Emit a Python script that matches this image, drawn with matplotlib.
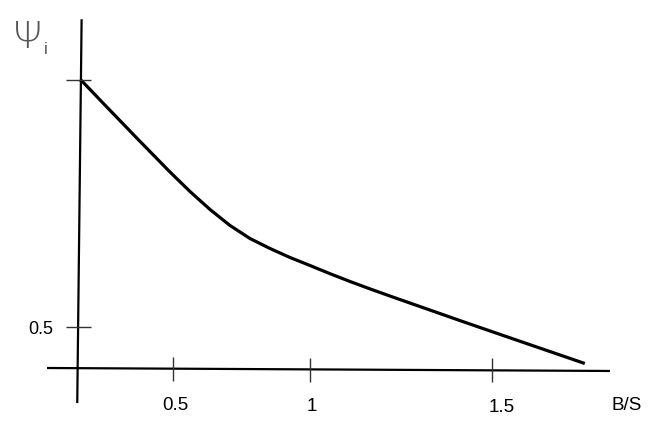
import numpy as np
import matplotlib
matplotlib.use("Agg")
import matplotlib.pyplot as plt

plt.rcParams['font.family'] = ['Liberation Sans', 'DejaVu Sans']

# hand drawn x axis: tick spacing is not even, so map data -> drawing position
x_ref = [-1.0, 0.0, 0.5, 1.0, 1.5, 3.0]
x_pos = [-112.0, 78.0, 173.0, 310.0, 492.0, 1038.0]

# curve Psi_i vs B/S
bs = [0.01, 0.019, 0.133, 0.309, 0.484, 0.562, 0.635, 0.708, 0.781,
      0.854, 0.927, 1.000, 1.055, 1.110, 1.165, 1.220, 1.275, 1.330,
      1.412, 1.495, 1.577, 1.659, 1.755]
psi = [1.0, 0.9986, 0.9528, 0.8826, 0.8138, 0.7743, 0.7379, 0.7055, 0.6791,
       0.6589, 0.6407, 0.6245, 0.6079, 0.5921, 0.5771, 0.5626, 0.5484, 0.5342,
       0.5130, 0.4919, 0.4711, 0.4504, 0.4261]

xticks = [0.5, 1.0, 1.5]
xtick_labels = ["0.5", "1", "1.5"]
yticks = [1.0, 0.5]
ytick_labels = ["", "0.5"]

# axis lines (as drawn, slightly skewed)
x_axis_x = [-0.163, 1.824]
x_axis_y = [0.417, 0.411]
y_axis_x = [-0.004, 0.019]
y_axis_y = [0.346, 1.123]


def fwd(x):
    return np.interp(x, x_ref, x_pos)


def inv(p):
    return np.interp(p, x_pos, x_ref)


fig = plt.figure(figsize=(6.71, 4.33), dpi=100)
ax = fig.add_axes([0, 0, 1, 1])
ax.set_xscale('function', functions=(fwd, inv))
ax.set_xlim(inv(0), inv(671))
# 494 px per unit on y, value 1 sits at 80 px from top
ax.set_ylim(1 - 353 / 494, 1 + 80 / 494)
ax.axis('off')

ax.plot(x_axis_x, x_axis_y, color='black', lw=1.6, solid_capstyle='butt')
ax.plot(y_axis_x, y_axis_y, color='black', lw=1.6, solid_capstyle='butt')

ax.plot(bs, psi, color='black', lw=2.3, solid_capstyle='butt', solid_joinstyle='round')

# ticks
x_axis_at = np.interp(xticks, x_axis_x, x_axis_y)
ax.plot(xticks, x_axis_at, ls='', marker='|', ms=17, mew=1.0, color='#333333')
ax.plot([0, 0], yticks, ls='', marker='_', ms=18, mew=1.0, color='#333333')

dx = [2, 2, 10]
for x, lab, d, ya in zip(xticks, xtick_labels, dx, x_axis_at):
    ax.annotate(lab, (x, ya), xytext=(d * 0.72, -37 * 0.72), textcoords='offset points',
                ha='center', va='center', fontsize=13.5)
for y, lab in zip(yticks, ytick_labels):
    if lab:
        ax.annotate(lab, (0, y), xytext=(-37.5 * 0.72, -2 * 0.72), textcoords='offset points',
                    ha='center', va='center', fontsize=13)

fig.text(627 / 671, 1 - 405 / 433, "B/S", ha='center', va='center', fontsize=13.5)
fig.text(28 / 671, 1 - 38 / 433, "Ψ", ha='center', va='center', fontsize=27,
         fontweight='light', color='#555555', family=['DejaVu Sans'])
fig.text(46 / 671, 1 - 50 / 433, "i", ha='center', va='center', fontsize=12,
         color='#555555')

fig.savefig('out.png', dpi=100)
